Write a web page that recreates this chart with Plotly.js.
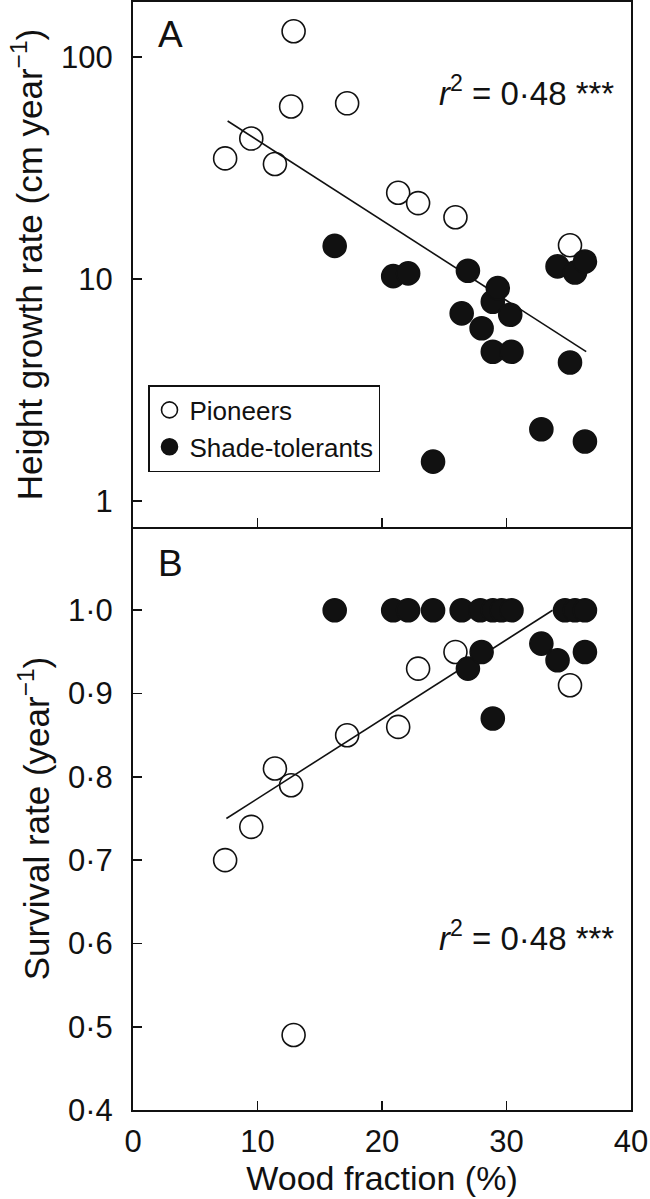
<!DOCTYPE html>
<html>
<head>
<meta charset="utf-8">
<script src="https://cdn.plot.ly/plotly-3.0.1.min.js"></script>
<style>html,body{margin:0;padding:0;background:#fff;}#chart{width:650px;height:1199px;}</style>
</head>
<body>
<div id="chart"></div>
<script>
// ---- Data ----
// Panel A: height growth rate (cm/year) vs wood fraction (%)
var pioneerWoodA   = [7.4, 9.5, 11.4, 12.7, 12.9, 17.2, 21.3, 22.9, 25.9, 35.1];
var pioneerGrowth  = [35, 43, 33, 60, 131, 62, 24.5, 22, 19, 14.2];
var shadeWoodA     = [16.2, 20.9, 22.1, 24.1, 26.4, 26.9, 28.0, 28.9, 28.9, 29.3, 30.3, 30.4, 32.8, 34.1, 35.1, 35.5, 36.3, 36.3];
var shadeGrowth    = [14.1, 10.3, 10.6, 1.5, 7.0, 10.9, 6.0, 7.9, 4.7, 9.1, 6.9, 4.7, 2.1, 11.4, 4.2, 10.7, 12.0, 1.85];
var fitWoodA       = [7.6, 36.4];
var fitGrowth      = [51.6, 4.7];

// Panel B: survival rate (/year) vs wood fraction (%)
var pioneerWoodB   = [7.4, 9.5, 11.4, 12.7, 12.9, 17.2, 21.3, 22.9, 25.9, 35.1];
var pioneerSurv    = [0.70, 0.74, 0.81, 0.79, 0.49, 0.85, 0.86, 0.93, 0.95, 0.91];
var shadeWoodB     = [16.2, 20.9, 22.1, 24.1, 26.4, 27.9, 28.9, 29.6, 30.4, 34.7, 35.5, 36.3, 26.9, 28.0, 28.9, 32.8, 34.1, 36.3];
var shadeSurv      = [1.0, 1.0, 1.0, 1.0, 1.0, 1.0, 1.0, 1.0, 1.0, 1.0, 1.0, 1.0, 0.93, 0.95, 0.87, 0.96, 0.94, 0.95];
var fitWoodB       = [7.5, 33.7];
var fitSurv        = [0.75, 1.0];

// Tick labels
var xTickVals   = [0, 10, 20, 30, 40];
var xTickText   = ['0', '10', '20', '30', '40'];
var yATickVals  = [1, 10, 100];
var yATickText  = ['1', '10', '100'];
var yBTickVals  = [0.4, 0.5, 0.6, 0.7, 0.8, 0.9, 1.0];
var yBTickText  = ['0·4', '0·5', '0·6', '0·7', '0·8', '0·9', '1·0'];

var FONT = 'Liberation Sans, Arial, Helvetica, sans-serif';
var MS = 23;

var openMarker = {symbol: 'circle', size: MS, color: '#ffffff', line: {color: '#111111', width: 1.6}};
var fillMarker = {symbol: 'circle', size: MS, color: '#111111', line: {color: '#111111', width: 1.6}};

var traces = [
  {x: pioneerWoodA, y: pioneerGrowth, xaxis: 'x2', yaxis: 'y', mode: 'markers', type: 'scatter',
   name: 'Pioneers', marker: openMarker, legendgroup: 'p'},
  {x: fitWoodA, y: fitGrowth, xaxis: 'x2', yaxis: 'y', mode: 'lines', type: 'scatter',
   line: {color: '#111111', width: 1.6}, showlegend: false},
  {x: shadeWoodA, y: shadeGrowth, xaxis: 'x2', yaxis: 'y', mode: 'markers', type: 'scatter',
   name: 'Shade-tolerants', marker: fillMarker, legendgroup: 's'},
  {x: pioneerWoodB, y: pioneerSurv, xaxis: 'x', yaxis: 'y2', mode: 'markers', type: 'scatter',
   name: 'Pioneers', marker: openMarker, showlegend: false, legendgroup: 'p'},
  {x: fitWoodB, y: fitSurv, xaxis: 'x', yaxis: 'y2', mode: 'lines', type: 'scatter',
   line: {color: '#111111', width: 1.6}, showlegend: false},
  {x: shadeWoodB, y: shadeSurv, xaxis: 'x', yaxis: 'y2', mode: 'markers', type: 'scatter',
   name: 'Shade-tolerants', marker: fillMarker, showlegend: false, legendgroup: 's'}
];

var splitFrac = (1110 - 527) / 1108;

var axisCommon = {
  showline: true, linecolor: '#111111', linewidth: 2, mirror: true,
  ticks: 'inside', ticklen: 9, tickwidth: 1.6, tickcolor: '#111111',
  showgrid: false, zeroline: false,
  tickfont: {family: FONT, size: 31, color: '#111111'}
};

var layout = {
  width: 650, height: 1199,
  margin: {l: 133, r: 19, t: 2, b: 89, pad: 0},
  paper_bgcolor: '#ffffff', plot_bgcolor: '#ffffff',
  font: {family: FONT, color: '#111111'},
  showlegend: true,
  legend: {
    x: (148 - 133) / 498, y: (1110 - 385) / 1108, xanchor: 'left', yanchor: 'top',
    bgcolor: '#ffffff', bordercolor: '#111111', borderwidth: 1.5,
    font: {family: FONT, size: 26, color: '#111111'}, tracegroupgap: 0
  },
  xaxis: Object.assign({}, axisCommon, {
    domain: [0, 1], anchor: 'y2', range: [0, 40], mirror: false,
    tickmode: 'array', tickvals: xTickVals, ticktext: xTickText, ticklabelstandoff: 3,
    title: {text: 'Wood fraction (%)', font: {family: FONT, size: 34, color: '#111111'}, standoff: 6}
  }),
  xaxis2: Object.assign({}, axisCommon, {
    domain: [0, 1], anchor: 'y', range: [0, 40], matches: 'x',
    tickmode: 'array', tickvals: xTickVals, showticklabels: false
  }),
  yaxis: Object.assign({}, axisCommon, {
    domain: [splitFrac, 1], anchor: 'x2', type: 'log', range: [-0.1186, 2.2494],
    tickmode: 'array', tickvals: yATickVals, ticktext: yATickText, ticklabelstandoff: 12,
    title: {text: 'Height growth rate (cm year<sup>−1</sup>)', font: {family: FONT, size: 35, color: '#111111'}, standoff: 8}
  }),
  yaxis2: Object.assign({}, axisCommon, {
    domain: [0, splitFrac], anchor: 'x', range: [0.4, 1.1],
    tickmode: 'array', tickvals: yBTickVals, ticktext: yBTickText, ticklabelstandoff: 12,
    title: {text: 'Survival rate (year<sup>−1</sup>)', font: {family: FONT, size: 35, color: '#111111'}, standoff: 8}
  }),
  annotations: [
    {text: 'A', xref: 'paper', yref: 'paper', x: (156 - 133) / 498, y: (1110 - 35) / 1108,
     xanchor: 'left', yanchor: 'middle', showarrow: false, font: {family: FONT, size: 37, color: '#111111'}},
    {text: 'B', xref: 'paper', yref: 'paper', x: (156 - 133) / 498, y: (1110 - 563) / 1108,
     xanchor: 'left', yanchor: 'middle', showarrow: false, font: {family: FONT, size: 37, color: '#111111'}},
    {text: '<i>r</i><sup>2</sup> = 0·48 ***', xref: 'paper', yref: 'paper', x: (616 - 133) / 498, y: (1110 - 91) / 1108,
     xanchor: 'right', yanchor: 'middle', showarrow: false, font: {family: FONT, size: 33, color: '#111111'}},
    {text: '<i>r</i><sup>2</sup> = 0·48 ***', xref: 'paper', yref: 'paper', x: (616 - 133) / 498, y: (1110 - 936) / 1108,
     xanchor: 'right', yanchor: 'middle', showarrow: false, font: {family: FONT, size: 33, color: '#111111'}}
  ]
};

Plotly.newPlot('chart', traces, layout, {displayModeBar: false, staticPlot: true});
</script>
</body>
</html>
